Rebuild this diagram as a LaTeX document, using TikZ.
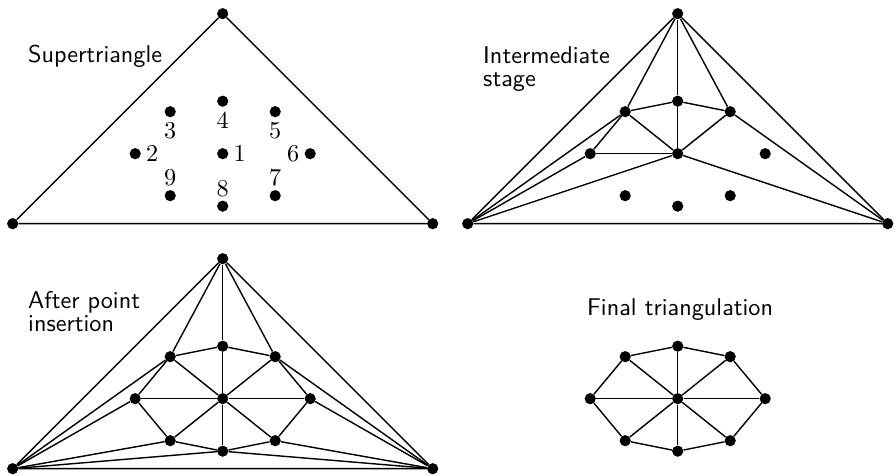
\documentclass[tikz,border=0pt]{standalone}
\usepackage{tikz}
\usetikzlibrary{positioning}
\tikzset{vertex/.style={circle,fill=black,minimum size=3.2mm,inner sep=0pt},edge/.style={line width=1.15pt},num/.style={inner sep=1pt,scale=1.97,transform shape,font=\fontsize{10}{12}\selectfont},caption/.style={anchor=base west,inner sep=0pt,align=left,scale=1.97,transform shape,font=\sffamily\fontsize{10}{9.45}\selectfont}}

\begin{document}
\begin{tikzpicture}
      \useasboundingbox(-6.363,-9.209)rectangle(19.237,4.391);
      % the nine points, once per stage
      \foreach \p/\x/\y in {s/0/0,m/13/0,p/0/-7,f/13/-7}
        \foreach \n/\a/\b in {1/0/0,2/-2.5/0,3/-1.5/1.2,4/0/1.5,5/1.5/1.2,6/2.5/0,7/1.5/-1.2,8/0/-1.5,9/-1.5/-1.2}
          \node[vertex](\p\n) at (\x+\a,\y+\b){};
      % supertriangle corners
      \foreach \p/\x/\y in {s/0/0,m/13/0,p/0/-7}{
        \node[vertex](\p top) at (\x,\y+4){};
        \node[vertex](\p left) at (\x-6,\y-2){};
        \node[vertex](\p right) at (\x+6,\y-2){};
        \draw[edge](\p top)--(\p left)--(\p right)--(\p top);}
      \node[num,right=0.06cm of s1](l1){1};\node[num,right=0.06cm of s2](l2){2};\node[num,left=0.06cm of s6](l6){6};
      \node[num,below=0.06cm of s3](l3){3};\node[num,below=0.06cm of s4](l4){4};\node[num,below=0.06cm of s5](l5){5};
      \node[num,above=0.02cm of s7](l7){7};\node[num,above=0.02cm of s8](l8){8};\node[num,above=0.02cm of s9](l9){9};
      \foreach \a/\b in {top/3,top/4,top/5,4/1,3/4,4/5,3/1,5/1,3/2,2/1,left/3,left/2,left/1,right/5,right/1}
        \draw[edge](m\a)--(m\b);
      \foreach \a/\b in {top/3,top/4,top/5,left/3,left/2,left/9,left/8,right/5,right/6,right/7,right/8}
        \draw[edge](p\a)--(p\b);
      \foreach \q in {p,f}{
        \draw[edge](\q2)--(\q3)--(\q4)--(\q5)--(\q6)--(\q7)--(\q8)--(\q9)--(\q2);
        \foreach \n in {2,...,9}\draw[edge](\q1)--(\q\n);}
      \node[caption](super) at (-5.57,2.6){Supertriangle};
      \node[caption](inter) at (7.43,1.93){Intermediate\\stage};
      \node[caption](after) at (-5.57,-5.08){After point\\insertion};
      \node[caption,anchor=base](final) at (13.07,-4.62){Final triangulation};
    \end{tikzpicture}
\end{document}
